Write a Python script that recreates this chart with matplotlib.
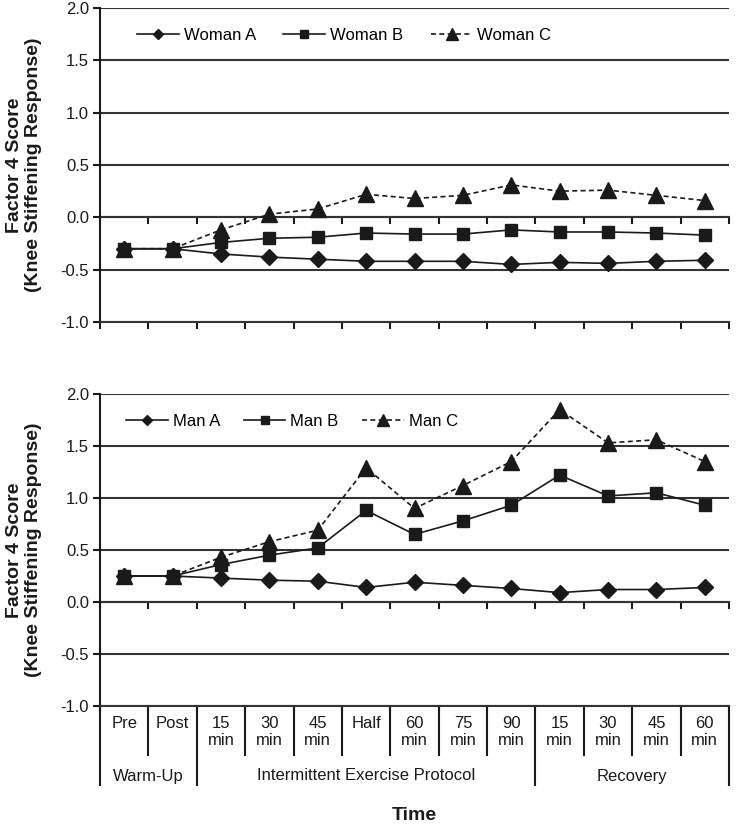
import matplotlib
matplotlib.use("Agg")
import matplotlib.pyplot as plt
import numpy as np

plt.rcParams['font.family'] = ['Liberation Sans', 'DejaVu Sans']

categories = ["Pre", "Post", "15\nmin", "30\nmin", "45\nmin", "Half", "60\nmin",
              "75\nmin", "90\nmin", "15\nmin", "30\nmin", "45\nmin", "60\nmin"]
groups = ["Warm-Up", "Intermittent Exercise Protocol", "Recovery"]
group_sizes = [2, 7, 4]

woman_a = [-0.30, -0.30, -0.35, -0.38, -0.40, -0.42, -0.42, -0.42, -0.45, -0.43, -0.44, -0.42, -0.41]
woman_b = [-0.30, -0.30, -0.24, -0.20, -0.19, -0.15, -0.16, -0.16, -0.12, -0.14, -0.14, -0.15, -0.17]
woman_c = [-0.30, -0.30, -0.12, 0.03, 0.08, 0.22, 0.18, 0.21, 0.31, 0.25, 0.26, 0.21, 0.16]

man_a = [0.25, 0.25, 0.23, 0.21, 0.20, 0.14, 0.19, 0.16, 0.13, 0.09, 0.12, 0.12, 0.14]
man_b = [0.25, 0.25, 0.36, 0.45, 0.52, 0.88, 0.65, 0.78, 0.93, 1.22, 1.02, 1.05, 0.93]
man_c = [0.25, 0.25, 0.43, 0.58, 0.69, 1.29, 0.90, 1.12, 1.35, 1.85, 1.53, 1.56, 1.35]

W, H = 747, 825
fig = plt.figure(figsize=(W / 100, H / 100), dpi=100)

INK = "#1a1a1a"
GRID = "#333333"
FS = 12

def make_axes(top_px, bottom_px):
    left, right = 100, 729
    return fig.add_axes([left / W, (H - bottom_px) / H, (right - left) / W, (bottom_px - top_px) / H])

def style_axes(ax):
    n = len(categories)
    ax.set_xlim(-0.5, n - 0.5)
    ax.set_ylim(-1.0, 2.0)
    yt = np.arange(-1.0, 2.01, 0.5)
    ax.set_yticks(yt)
    ax.set_yticklabels([f"{v:.1f}" for v in yt], fontsize=FS, color=INK)
    ax.yaxis.grid(True, color=GRID, linewidth=1.5, zorder=0)
    ax.set_axisbelow(True)
    for s in ["top", "right"]:
        ax.spines[s].set_visible(False)
    ax.spines["left"].set_color(INK)
    ax.spines["left"].set_linewidth(1.5)
    ax.spines["bottom"].set_color(GRID)
    ax.spines["bottom"].set_linewidth(1.5)
    ax.tick_params(axis="y", direction="out", length=5, width=1.5, color=INK, pad=3)
    bounds = np.arange(-0.5, n, 1.0)
    ax.set_xticks(bounds)
    ax.set_xticklabels([])
    ax.tick_params(axis="x", direction="out", length=5, width=1.5, color=INK)
    # category axis crossing at 0
    sec = ax.secondary_xaxis(1.0 / 3.0)
    sec.set_xticks(bounds)
    sec.set_xticklabels([])
    sec.tick_params(axis="x", direction="out", length=5, width=1.5, color=INK)
    sec.spines["bottom"].set_color(GRID)
    sec.spines["bottom"].set_linewidth(1.5)

def plot_series(ax, a, b, c, labels, lx, colsp):
    x = np.arange(len(categories))
    kw = dict(color=INK, linewidth=1.2, markeredgecolor=INK, markerfacecolor=INK, zorder=3)
    ax.plot(x, a, marker="D", markersize=8, label=labels[0], **kw)
    ax.plot(x, b, marker="s", markersize=9, label=labels[1], **kw)
    ax.plot(x, c, marker="^", markersize=12, linestyle=(0, (3, 2)), label=labels[2], **kw)
    ax.legend(loc="upper left", bbox_to_anchor=(lx, 0.985), ncol=3, frameon=False,
              fontsize=FS, handlelength=2.5, handletextpad=0.3, columnspacing=colsp,
              markerscale=0.7)

ax1 = make_axes(8, 322)
style_axes(ax1)
plot_series(ax1, woman_a, woman_b, woman_c, ["Woman A", "Woman B", "Woman C"], 0.035, 1.65)

ax2 = make_axes(394, 706)
style_axes(ax2)
plot_series(ax2, man_a, man_b, man_c, ["Man A", "Man B", "Man C"], 0.018, 1.4)

# multi-level category labels
ax_h = 706 - 394
tr = ax2.get_xaxis_transform()
short = -49 / ax_h
long_ = -79 / ax_h
n = len(categories)
group_edges = np.concatenate([[0], np.cumsum(group_sizes)]) - 0.5
for k in range(n + 1):
    xb = k - 0.5
    yb = long_ if np.any(np.isclose(group_edges, xb)) else short
    ax2.plot([xb, xb], [0, yb], transform=tr, color=INK, linewidth=1.5, clip_on=False)
for i, lab in enumerate(categories):
    ax2.text(i, -10 / ax_h, lab, transform=tr, ha="center", va="top", fontsize=FS,
             color=INK, linespacing=1.2)
for g, (lo, hi) in zip(groups, zip(group_edges[:-1], group_edges[1:])):
    ax2.text((lo + hi) / 2, -70 / ax_h, g, transform=tr, ha="center", va="center",
             fontsize=FS, color=INK)

ylab = "Factor 4 Score\n(Knee Stiffening Response)"
for cy in [(8 + 322) / 2, (394 + 706) / 2]:
    fig.text(24 / W, 1 - cy / H, ylab, rotation=90, ha="center", va="center",
             fontsize=14, fontweight="bold", color=INK, linespacing=1.2)

fig.text(414 / W, 1 - 815 / H, "Time", ha="center", va="center", fontsize=14,
         fontweight="bold", color=INK)

fig.savefig("out.png", dpi=100)
